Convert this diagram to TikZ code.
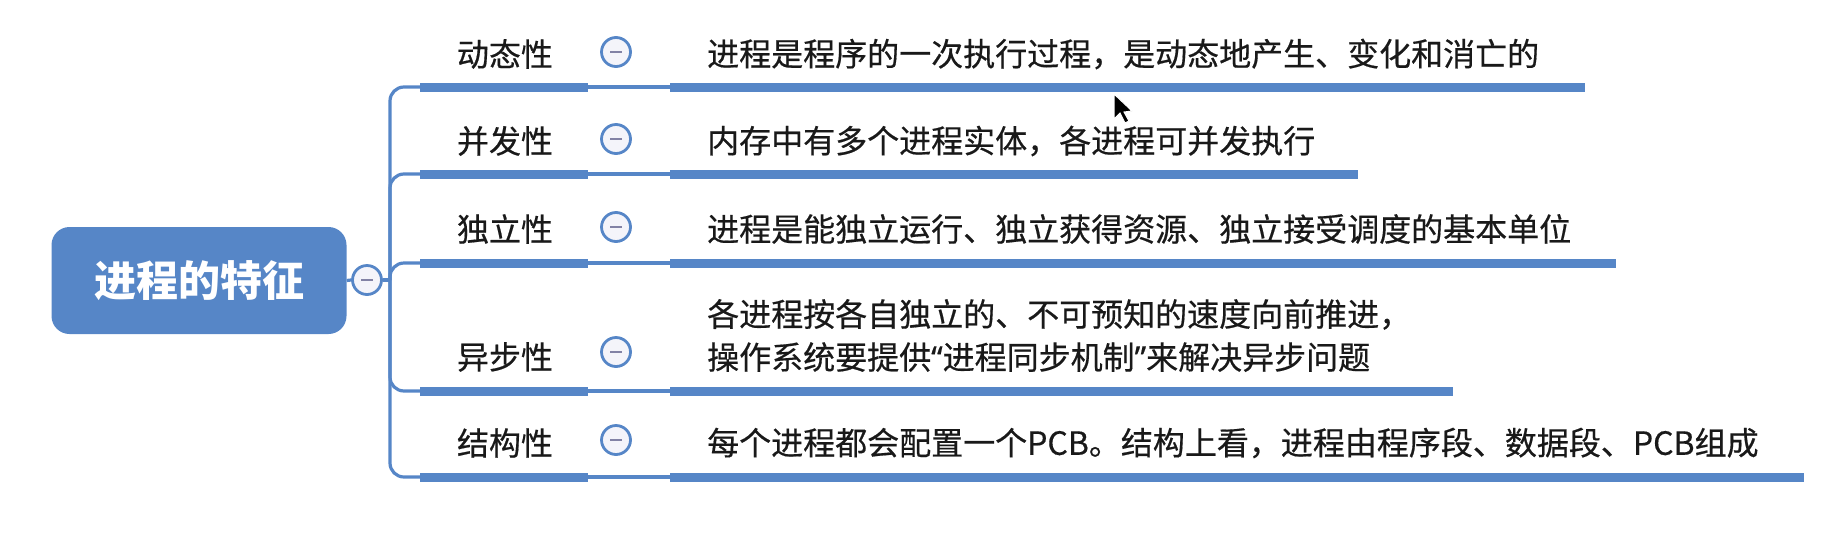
\documentclass[tikz,border=0pt]{standalone}
\usepackage{fontspec}
\setmainfont{Noto Sans CJK SC}
\newfontfamily\medfont[FakeBold=0.5]{Noto Sans CJK SC}
\newfontfamily\quotefont[FakeBold=0.5]{Noto Sans}
\definecolor{xblue}{RGB}{86,134,199}
\definecolor{minusgray}{RGB}{130,130,165}
\definecolor{circfill}{RGB}{244,244,250}
\definecolor{txt}{RGB}{25,25,25}
\tikzset{
 bar/.style={fill=xblue, draw=none, minimum height=9pt, inner sep=0pt, rectangle},
 conn/.style={draw=xblue, line width=3.2pt, rounded corners=14pt},
 lbl/.style={font=\fontsize{32}{38}\selectfont\medfont, text=txt, inner sep=0pt},
 desc/.style={font=\fontsize{32}{43}\selectfont\medfont, text=txt, inner sep=0pt, anchor=west, align=left},
 fold/.style={circle, draw=xblue, line width=2.8pt, fill=circfill, minimum size=29pt, inner sep=0pt,
   path picture={\draw[minusgray, line width=2.2pt] (path picture bounding box.center) +(-6pt,0pt) -- +(6pt,0pt);}},
 rootbox/.style={rounded corners=18pt, fill=xblue, text=white, font=\fontsize{42}{50}\selectfont\bfseries, minimum width=295pt, minimum height=107pt, inner sep=0pt}
}
\begin{document}
\begin{tikzpicture}[x=1pt,y=-1pt]
\useasboundingbox (0,0) rectangle (1823,547);
% root
\node[rootbox] (root) at (199,280.5) {进程的特征};
\node[fold] (rc) at (367,280) {};
\coordinate (j) at (390,280);
\draw[conn] (root.east) -- (rc.west);
\draw[conn] (rc.east) -- (j);
% label underlines
\node[bar, minimum width=168pt] (u1) at (504,87) {};
\node[bar, minimum width=168pt] (u2) at (504,174) {};
\node[bar, minimum width=168pt] (u3) at (504,263) {};
\node[bar, minimum width=168pt] (u4) at (504,391) {};
\node[bar, minimum width=168pt] (u5) at (504,477) {};
% description underlines
\node[bar, anchor=west, minimum width=915pt] (d1) at (670,87) {};
\node[bar, anchor=west, minimum width=688pt] (d2) at (670,174) {};
\node[bar, anchor=west, minimum width=946pt] (d3) at (670,263) {};
\node[bar, anchor=west, minimum width=783pt] (d4) at (670,391) {};
\node[bar, anchor=west, minimum width=1134pt] (d5) at (670,477) {};
% connectors
\foreach \k in {1,...,5}{
  \draw[conn] (j) |- (u\k.west);
  \draw[conn, rounded corners=0pt] (u\k.east) -- (d\k.west);
}
% labels
\node[lbl] (t1) at (505,54) {动态性};
\node[lbl] (t2) at (505,141) {并发性};
\node[lbl] (t3) at (505,229) {独立性};
\node[lbl] (t4) at (505,357) {异步性};
\node[lbl] (t5) at (505,443) {结构性};
% fold circles
\node[fold] (f1) at (616,52) {};
\node[fold] (f2) at (616,139) {};
\node[fold] (f3) at (616,227) {};
\node[fold] (f4) at (616,352) {};
\node[fold] (f5) at (616,440) {};
% descriptions
\node[desc] (e1) at (707,54) {进程是程序的一次执行过程，是动态地产生、变化和消亡的};
\node[desc] (e2) at (707,141) {内存中有多个进程实体，各进程可并发执行};
\node[desc] (e3) at (707,229) {进程是能独立运行、独立获得资源、独立接受调度的基本单位};
\node[desc] (e4) at (707,335.5) {各进程按各自独立的、不可预知的速度向前推进，\\操作系统要提供{\quotefont“}进程同步机制{\quotefont”}来解决异步问题};
\node[desc] (e5) at (707,443) {每个进程都会配置一个PCB。结构上看，进程由程序段、数据段、PCB组成};
% mouse cursor
\filldraw[fill=black, draw=white, line width=1pt] (1114,94) -- (1114,119) -- (1120,113) -- (1125,123) -- (1129,121) -- (1124,112) -- (1132,111) -- cycle;
\end{tikzpicture}
\end{document}
